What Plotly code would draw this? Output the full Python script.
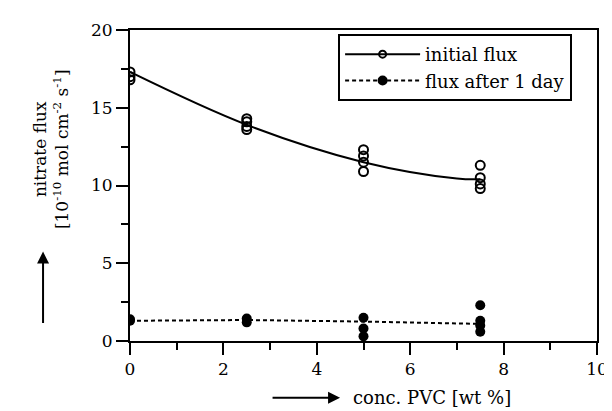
import plotly.graph_objects as go

# initial flux (open circles)
x_init = [0, 0, 0, 2.5, 2.5, 2.5, 2.5, 5, 5, 5, 5, 7.5, 7.5, 7.5, 7.5]
y_init = [17.3, 17.0, 16.8, 14.3, 14.1, 13.8, 13.6, 12.3, 11.9, 11.5, 10.9, 11.3, 10.5, 10.1, 9.8]
# flux after 1 day (filled circles)
x_day = [0, 0, 2.5, 2.5, 5, 5, 5, 7.5, 7.5, 7.5, 7.5]
y_day = [1.3, 1.4, 1.45, 1.2, 1.5, 0.8, 0.3, 2.3, 1.3, 1.0, 0.6]
# fitted curves
x_fit = [0, 2.5, 5, 7, 7.5]
y_fit_init = [17.3, 13.9, 11.5, 10.45, 10.4]
x_fit_day = [0, 2.5, 5, 7.5]
y_fit_day = [1.3, 1.35, 1.25, 1.1]

FONT = "DejaVu Serif"
ML, MR, MT, MB, W, H = 122, 12, 20, 78, 612, 411

def px_to_paper_x(px):
    return (px - ML) / (W - ML - MR)

def px_to_paper_y(py):
    return (H - MB - py) / (H - MT - MB)

fig = go.Figure()
fig.add_trace(go.Scatter(x=x_fit, y=y_fit_init, mode="lines", line=dict(color="black", width=2, shape="spline"),
                         showlegend=False, hoverinfo="skip"))
fig.add_trace(go.Scatter(x=x_fit_day, y=y_fit_day, mode="lines",
                         line=dict(color="black", width=2, dash="4px,3px"),
                         showlegend=False, hoverinfo="skip"))
fig.add_trace(go.Scatter(x=x_init, y=y_init, mode="markers",
                         marker=dict(symbol="circle-open", size=9, color="black", line=dict(width=2)),
                         showlegend=False))
fig.add_trace(go.Scatter(x=x_day, y=y_day, mode="markers",
                         marker=dict(symbol="circle", size=10, color="black"), showlegend=False))
# legend entries
fig.add_trace(go.Scatter(x=[None], y=[None], mode="lines+markers", name="initial flux",
                         line=dict(color="black", width=2),
                         marker=dict(symbol="circle-open", size=7, color="black", line=dict(width=2))))
fig.add_trace(go.Scatter(x=[None], y=[None], mode="lines+markers", name="flux after 1 day",
                         line=dict(color="black", width=2, dash="4px,3px"),
                         marker=dict(symbol="circle", size=10, color="black")))

axis_common = dict(showline=True, linecolor="black", linewidth=2, mirror=True, showgrid=False, zeroline=False,
                   ticks="outside", ticklen=12, tickwidth=2, tickcolor="black",
                   tickfont=dict(family=FONT, size=17, color="black"))
fig.update_xaxes(range=[0, 10], dtick=2, tick0=0,
                 minor=dict(dtick=1, tick0=0, ticks="outside", ticklen=7, tickwidth=2, tickcolor="black"),
                 **axis_common)
fig.update_yaxes(range=[0, 20], dtick=5, tick0=0,
                 minor=dict(dtick=2.5, tick0=0, ticks="outside", ticklen=7, tickwidth=2, tickcolor="black"),
                 **axis_common)

fig.update_layout(
    width=W, height=H,
    margin=dict(l=ML, r=MR, t=MT, b=MB),
    plot_bgcolor="white", paper_bgcolor="white",
    font=dict(family=FONT, color="black"),
    legend=dict(x=px_to_paper_x(335), y=px_to_paper_y(24), xanchor="left", yanchor="top",
                bordercolor="black", borderwidth=2, itemwidth=75,
                bgcolor="white", font=dict(family=FONT, size=18, color="black"), tracegroupgap=0),
)
fig.add_annotation(text="nitrate flux<br>[10<sup>-10</sup> mol cm<sup>-2</sup> s<sup>-1</sup>]", textangle=-90,
                   xref="paper", yref="paper", x=px_to_paper_x(41), y=px_to_paper_y(140),
                   xanchor="center", yanchor="middle", showarrow=False,
                   font=dict(family=FONT, size=17, color="black"))
fig.add_annotation(text="conc. PVC [wt %]", xref="paper", yref="paper", x=px_to_paper_x(348),
                   y=px_to_paper_y(390), xanchor="left", yanchor="middle", showarrow=False,
                   font=dict(family=FONT, size=18, color="black"))
fig.add_annotation(x=px_to_paper_x(337), y=px_to_paper_y(390), ax=-69, ay=0,
                   xref="paper", yref="paper", axref="pixel", ayref="pixel", text="", showarrow=True,
                   arrowhead=2, arrowsize=1.2, arrowwidth=2, arrowcolor="black")
fig.add_annotation(x=px_to_paper_x(33), y=px_to_paper_y(243), ax=0, ay=73,
                   xref="paper", yref="paper", axref="pixel", ayref="pixel", text="", showarrow=True,
                   arrowhead=2, arrowsize=1.2, arrowwidth=2, arrowcolor="black")

fig.write_html("out.html")
